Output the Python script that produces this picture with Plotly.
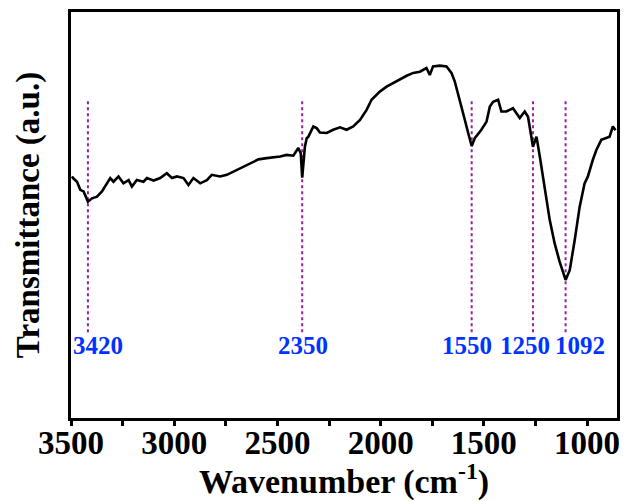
import plotly.graph_objects as go

# FTIR spectrum (wavenumber in cm-1, transmittance in a.u.)
wavenumber = [3495, 3490, 3471, 3455, 3439, 3418, 3398, 3374, 3350, 3334, 3310, 3294, 3270, 3246,
              3221, 3205, 3181, 3149, 3132, 3100, 3068, 3036, 3011, 2987, 2955, 2931, 2907, 2874,
              2842, 2818, 2778, 2745, 2713, 2673, 2633, 2592, 2552, 2520, 2487, 2455, 2423, 2399,
              2387, 2380, 2367, 2358, 2350, 2326, 2310, 2294, 2261, 2230, 2197, 2165, 2133, 2100,
              2068, 2044, 2004, 1971, 1939, 1907, 1874, 1842, 1810, 1778, 1762, 1746, 1713, 1681,
              1657, 1641, 1625, 1608, 1592, 1576, 1559, 1544, 1512, 1487, 1471, 1455, 1431, 1415,
              1391, 1359, 1326, 1302, 1286, 1262, 1245, 1229, 1205, 1181, 1157, 1133, 1104, 1084,
              1060, 1036, 1012, 996, 972, 955, 931, 891, 875, 862]
transmittance = [59.5, 59.1, 58.2, 56.2, 55.8, 53.3, 54.1, 54.5, 55.8, 57.0, 59.1, 58.2, 59.5, 57.8,
                 58.6, 57.0, 58.6, 58.2, 59.1, 58.5, 59.1, 60.3, 59.1, 59.5, 59.1, 57.4, 59.1, 57.8,
                 58.6, 59.9, 59.5, 59.9, 60.7, 61.8, 62.6, 63.7, 64.0, 64.2, 64.4, 64.8, 64.6, 66.5,
                 65.2, 59.2, 66.8, 68.9, 69.3, 71.8, 71.4, 70.3, 70.2, 71.0, 71.6, 71.0, 71.8, 73.4,
                 75.9, 78.4, 80.4, 81.6, 82.5, 83.3, 84.3, 85.0, 85.3, 86.2, 84.5, 86.6, 86.8, 86.6,
                 85.0, 82.9, 80.0, 76.7, 73.4, 70.2, 67.0, 68.9, 71.0, 73.0, 76.7, 77.9, 78.4, 75.5,
                 75.5, 76.3, 73.9, 75.5, 74.2, 66.8, 69.3, 64.4, 57.0, 48.8, 43.0, 38.5, 34.0, 36.4,
                 43.8, 52.0, 57.8, 59.5, 63.6, 66.0, 68.5, 69.3, 71.8, 70.9]

# Marked bands
peak_labels = ["3420", "2350", "1550", "1250", "1092"]
peak_positions = [3418, 2380, 1559, 1262, 1104]
label_positions = [3367, 2375, 1580, 1302, 1036]
marker_top = 78.0
marker_bottom = 21.0
label_level = 17.8

x_ticks = [3500, 3000, 2500, 2000, 1500, 1000]
x_minor_ticks = [3250, 2750, 2250, 1750, 1250]
x_range = [3500, 855]
y_range = [0, 100]

fig = go.Figure()

for pos in peak_positions:
    fig.add_trace(go.Scatter(
        x=[pos, pos], y=[marker_top, marker_bottom], mode="lines",
        line=dict(color="#9b1f9b", width=2, dash="dot"),
        showlegend=False, hoverinfo="skip"))

fig.add_trace(go.Scatter(
    x=wavenumber, y=transmittance, mode="lines",
    line=dict(color="black", width=2.6),
    showlegend=False))

for lab, lx in zip(peak_labels, label_positions):
    fig.add_annotation(
        x=lx, y=label_level, text=lab, showarrow=False,
        font=dict(family="Liberation Serif", size=25, color="#0033ff", weight="bold"),
        xanchor="center", yanchor="middle")

fig.update_layout(
    width=630, height=501,
    margin=dict(l=71, r=13, t=12, b=83),
    paper_bgcolor="white", plot_bgcolor="white",
    font=dict(family="Liberation Serif", color="black"),
)

fig.update_xaxes(
    range=x_range, tickvals=x_ticks, ticktext=[str(t) for t in x_ticks],
    automargin=False,
    showline=True, linecolor="black", linewidth=2.5, mirror=True,
    ticks="outside", ticklen=5, tickwidth=2.5, tickcolor="black",
    ticklabelstandoff=-11,
    minor=dict(tickvals=x_minor_ticks, ticks="outside",
               ticklen=5, tickwidth=2.5, tickcolor="black"),
    showgrid=False, zeroline=False,
    tickfont=dict(family="Liberation Serif", size=33, color="black", weight="bold"),
    title=dict(text="Wavenumber (cm<sup>-1</sup>)", standoff=18,
               font=dict(family="Liberation Serif", size=34, color="black", weight="bold")),
)

fig.update_yaxes(
    range=y_range, showticklabels=False, ticks="",
    automargin=False,
    showline=True, linecolor="black", linewidth=2.5, mirror=True,
    showgrid=False, zeroline=False,
    title=dict(text="Transmittance (a.u.)", standoff=19,
               font=dict(family="Liberation Serif", size=33, color="black", weight="bold")),
)

fig.write_html("out.html", config={"displayModeBar": False},
               post_script="document.body.style.margin='0px';")
